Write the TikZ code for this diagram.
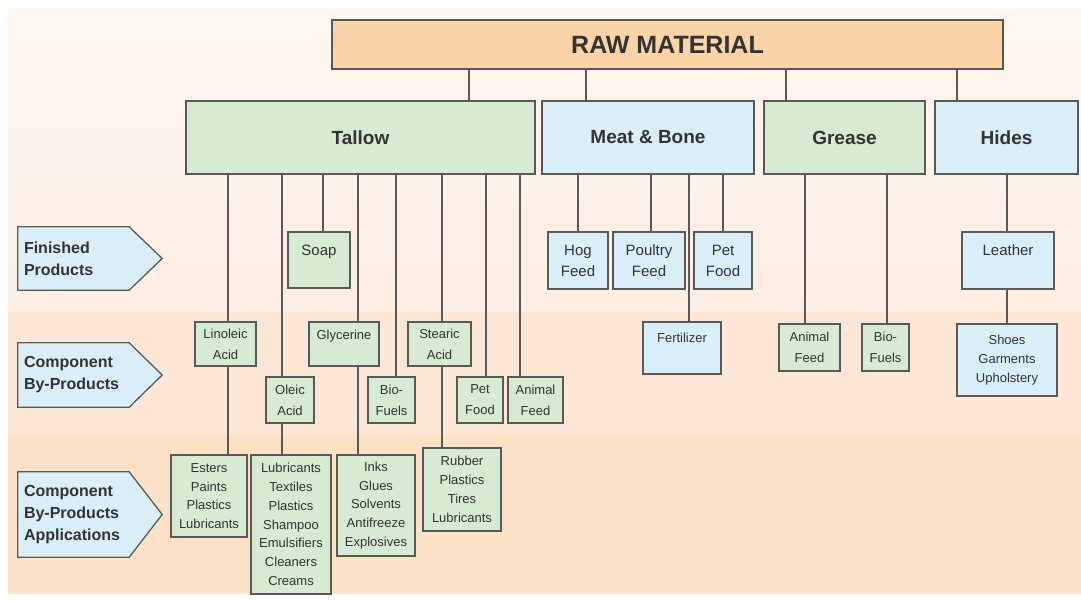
\documentclass[tikz,border=0pt]{standalone}
\usepackage{fontspec}
\setmainfont{Liberation Sans}
\usetikzlibrary{backgrounds}
\definecolor{bandtop}{HTML}{FEF7F0}
\definecolor{bandtopb}{HTML}{FDEEE3}
\definecolor{bandmid}{HTML}{FCE7D6}
\definecolor{bandlow}{HTML}{FDE2C7}
\definecolor{rawfill}{HTML}{FAD3A8}
\definecolor{tallowgreen}{HTML}{D6EBD1}
\definecolor{boneblue}{HTML}{DAEEF8}
\definecolor{edge}{HTML}{595959}
\definecolor{ink}{HTML}{333333}
\tikzset{
  rawbox/.style={draw=edge, line width=1.3pt, fill=rawfill, text=ink, font=\fontsize{25}{30}\selectfont\bfseries},
  groupbox/.style={draw=edge, line width=1.3pt, text=ink, font=\fontsize{19}{23}\selectfont\bfseries},
  prodbox/.style={draw=edge, line width=1.3pt, align=center, inner sep=2pt, text=ink, font=\fontsize{15}{21}\selectfont},
  bybox/.style={draw=edge, line width=1.3pt, align=center, inner sep=2pt, text=ink, font=\fontsize{13}{21}\selectfont},
  appbox/.style={draw=edge, line width=1.3pt, align=center, inner sep=2pt, text=ink, font=\fontsize{13}{18.8}\selectfont},
  tag/.style={align=left, inner xsep=6pt, text width=99pt, text=ink, font=\fontsize{16}{22}\selectfont\bfseries},
  tagshape/.style={draw=edge, line width=1.3pt, fill=boneblue},
  link/.style={draw=edge, line width=1.2pt}
}

\begin{document}
\begin{tikzpicture}[x=1pt, y=-1pt]
  \useasboundingbox (0,0) rectangle (1081,600);
  \begin{scope}[on background layer]
    \fill[white] (0,0) rectangle (1081,600);
    \shade[top color=bandtop, bottom color=bandtopb] (8,8) rectangle (1081,312);
    \fill[bandmid] (8,312) rectangle (1081,435);
    \fill[bandlow] (8,435) rectangle (1081,594);
  \end{scope}

  \node[rawbox, minimum width=671, minimum height=49] (raw) at (667.5,44.5) {RAW MATERIAL};

  \node[groupbox, fill=tallowgreen, minimum width=349, minimum height=73] (tallow) at (360.5,137.5) {Tallow};
  \node[groupbox, fill=boneblue, minimum width=212, minimum height=73] (meat) at (648,137.5) {Meat \& Bone};
  \node[groupbox, fill=tallowgreen, minimum width=161, minimum height=73] (grease) at (844.5,137.5) {Grease};
  \node[groupbox, fill=boneblue, minimum width=143, minimum height=73] (hides) at (1006.5,137.5) {Hides};

  \node[tag, minimum height=63] (fin) at (73.5,258.5) {Finished\\Products};
  \node[tag, minimum height=64] (comp) at (73.5,375) {Component\\By-Products};
  \node[tag, minimum height=85] (appl) at (73.5,514.5) {Component\\By-Products\\Applications};

  \node[prodbox, fill=tallowgreen, minimum width=62, minimum height=56, text height=21.5pt, text depth=30.5pt] (soap) at (319,260) {Soap};
  \node[prodbox, fill=boneblue, minimum width=60, minimum height=57] (hog) at (578,260.5) {Hog\\Feed};
  \node[prodbox, fill=boneblue, minimum width=72, minimum height=57] (poultry) at (649,260.5) {Poultry\\Feed};
  \node[prodbox, fill=boneblue, minimum width=58, minimum height=57] (mbpet) at (723,260.5) {Pet\\Food};
  \node[prodbox, fill=boneblue, minimum width=92, minimum height=57, text height=21.4pt, text depth=31.6pt] (leather) at (1008,260.5) {Leather};

  \node[bybox, fill=tallowgreen, minimum width=61, minimum height=44] (lin) at (225.5,344) {Linoleic\\Acid};
  \node[bybox, fill=tallowgreen, minimum width=70, minimum height=44, text height=15.7pt, text depth=24.3pt] (glyc) at (344,344) {Glycerine};
  \node[bybox, fill=tallowgreen, minimum width=63, minimum height=44] (stearic) at (439.5,344) {Stearic\\Acid};
  \node[bybox, fill=tallowgreen, minimum width=48, minimum height=46] (oleic) at (290,400) {Oleic\\Acid};
  \node[bybox, fill=tallowgreen, minimum width=47, minimum height=46] (tbio) at (391.5,400) {Bio-\\Fuels};
  \node[bybox, fill=tallowgreen, minimum width=46, minimum height=46] (tpet) at (480,400) {Pet\\Food};
  \node[bybox, fill=tallowgreen, minimum width=55, minimum height=46] (tanimal) at (535.5,400) {Animal\\Feed};
  \node[bybox, fill=boneblue, minimum width=78, minimum height=52, text height=18.7pt, text depth=29.3pt] (fert) at (682,348) {Fertilizer};
  \node[bybox, fill=tallowgreen, minimum width=61, minimum height=47] (ganimal) at (809.5,347.5) {Animal\\Feed};
  \node[bybox, fill=tallowgreen, minimum width=47, minimum height=47] (gbio) at (885.5,347.5) {Bio-\\Fuels};
  \node[appbox, fill=boneblue, minimum width=100, minimum height=72] (shoes) at (1007,360) {Shoes\\Garments\\Upholstery};

  \node[appbox, fill=tallowgreen, minimum width=76, minimum height=82] (esters) at (209,496) {Esters\\Paints\\Plastics\\Lubricants};
  \node[appbox, fill=tallowgreen, minimum width=80, minimum height=139] (lubs) at (291,524.5) {Lubricants\\Textiles\\Plastics\\Shampoo\\Emulsifiers\\Cleaners\\Creams};
  \node[appbox, fill=tallowgreen, minimum width=78, minimum height=101] (inks) at (376,505.5) {Inks\\Glues\\Solvents\\Antifreeze\\Explosives};
  \node[appbox, fill=tallowgreen, minimum width=78, minimum height=83] (rubber) at (462,489.5) {Rubber\\Plastics\\Tires\\Lubricants};

  \begin{scope}[on background layer]
    \foreach \t in {fin, comp, appl}
      \filldraw[tagshape] (\t.north west) -- (\t.north east) -- ([xshift=33]\t.east) -- (\t.south east) -- (\t.south west) -- cycle;
  \end{scope}

  \draw[link] (469,0 |- raw.south) -- (469,0 |- tallow.north);
  \draw[link] (586,0 |- raw.south) -- (586,0 |- meat.north);
  \draw[link] (786,0 |- raw.south) -- (786,0 |- grease.north);
  \draw[link] (957,0 |- raw.south) -- (957,0 |- hides.north);

  \draw[link] (228,0 |- tallow.south) -- (228,0 |- lin.north);
  \draw[link] (228,0 |- lin.south) -- (228,0 |- esters.north);
  \draw[link] (282,0 |- tallow.south) -- (282,0 |- oleic.north);
  \draw[link] (282,0 |- oleic.south) -- (282,0 |- lubs.north);
  \draw[link] (323,0 |- tallow.south) -- (323,0 |- soap.north);
  \draw[link] (358,0 |- tallow.south) -- (358,0 |- glyc.north);
  \draw[link] (358,0 |- glyc.south) -- (358,0 |- inks.north);
  \draw[link] (396,0 |- tallow.south) -- (396,0 |- tbio.north);
  \draw[link] (442,0 |- tallow.south) -- (442,0 |- stearic.north);
  \draw[link] (442,0 |- stearic.south) -- (442,0 |- rubber.north);
  \draw[link] (486,0 |- tallow.south) -- (486,0 |- tpet.north);
  \draw[link] (520,0 |- tallow.south) -- (520,0 |- tanimal.north);

  \draw[link] (578,0 |- meat.south) -- (578,0 |- hog.north);
  \draw[link] (651,0 |- meat.south) -- (651,0 |- poultry.north);
  \draw[link] (689,0 |- meat.south) -- (689,0 |- fert.north);
  \draw[link] (723,0 |- meat.south) -- (723,0 |- mbpet.north);

  \draw[link] (805,0 |- grease.south) -- (805,0 |- ganimal.north);
  \draw[link] (887,0 |- grease.south) -- (887,0 |- gbio.north);

  \draw[link] (1007,0 |- hides.south) -- (1007,0 |- leather.north);
  \draw[link] (1007,0 |- leather.south) -- (1007,0 |- shoes.north);
\end{tikzpicture}
\end{document}
